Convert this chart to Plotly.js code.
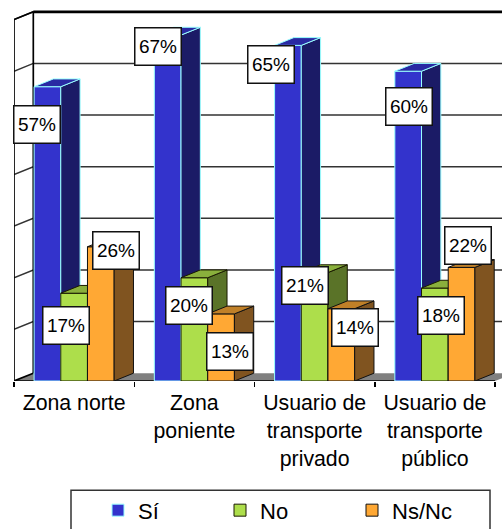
<!DOCTYPE html>
<html>
<head>
<meta charset="utf-8">
<script src="https://cdn.plot.ly/plotly-3.0.1.min.js"></script>
<style>html,body{margin:0;padding:0;background:#fff}</style>
</head>
<body>
<div id="chart" style="width:502px;height:529px"></div>
<script>
const categories = ["Zona norte", "Zona<br>poniente", "Usuario de<br>transporte<br>privado", "Usuario de<br>transporte<br>público"];
const seriesNames = ["Sí", "No", "Ns/Nc"];
const si = [57, 67, 65, 60];
const no = [17, 20, 21, 18];
const nsnc = [26, 13, 14, 22];
const gridValues = [10, 20, 30, 40, 50, 60, 70];

// label offsets from the front-top centre of each bar, in px
const labelShiftX = [[-10, -10, -17, 0.5], [-8.5, -5, -9.5, 6], [15, 8.5, 14, 6]];
const labelShiftY = [[-37.7, -11, -19.6, -35.2], [-32.4, -27.4, -12.6, -27.1], [-3.4, -37.2, -18.4, 22.3]];
const legendLeft = [98, 220, 352];

const styles = [
  {front: "#3333CC", side: "#1B1B66", top: "#2929A3", line: "#99FFFF"},
  {front: "#ADDE4B", side: "#5A7328", top: "#8AB03C", line: "#1a1a00"},
  {front: "#FFA834", side: "#805420", top: "#C08028", line: "#111111"}
];

const W = 502, H = 529, L = 14, BASE = 381.5;
const PXCAT = 120.25, PXVAL = 5.17;
const xMax = (W - L) / PXCAT, yMax = BASE / PXVAL;
const dx = 19.3 / PXCAT, dy = 7.8 / PXVAL;
const barW = 0.222;
const nCat = categories.length;
const values = [si, no, nsnc];
const traces = [];

// floor
traces.push({type: "scatter", mode: "lines", x: [0, dx, nCat + dx, nCat, 0], y: [0, dy, dy, 0, 0], fill: "toself",
  fillcolor: "#808080", line: {color: "#808080", width: 0}, showlegend: false, hoverinfo: "skip"});

// back wall and side wall grid
const gx = [], gy = [];
gridValues.forEach(v => { gx.push(0, dx, xMax, null); gy.push(v, v + dy, v + dy, null); });
traces.push({type: "scatter", mode: "lines", x: gx, y: gy, line: {color: "#333333", width: 1.5},
  showlegend: false, hoverinfo: "skip", cliponaxis: false});
traces.push({type: "scatter", mode: "lines", x: [0, 0, null, dx, dx, null, 0, dx, null, 0, dx, null, 0, nCat],
  y: [0, 70, null, dy, 70 + dy, null, 70, 70 + dy, null, 0, dy, null, 0, 0],
  line: {color: "#000000", width: 1.7}, showlegend: false, hoverinfo: "skip", cliponaxis: false});
traces.push({type: "scatter", mode: "lines", x: [dx, xMax], y: [70 + dy, 70 + dy],
  line: {color: "#000000", width: 2.8}, showlegend: false, hoverinfo: "skip", cliponaxis: false});

const annotations = [];
const legends = {};
values.forEach((vals, i) => {
  const ax = "x" + (i + 2), ay = "y" + (i + 2);
  const st = styles[i];
  const centers = vals.map((_, c) => c + 0.5 + (i - 1) * barW);
  const legendId = i === 0 ? "legend" : "legend" + (i + 1);
  legends[legendId] = {x: (legendLeft[i] - L) / (W - L), xanchor: "left", y: (BASE - 490) / BASE, yanchor: "top",
    font: {family: "Liberation Sans", size: 22, color: "#000000"}, itemwidth: 30, bgcolor: "rgba(0,0,0,0)", borderwidth: 0};
  traces.push({type: "bar", name: seriesNames[i], x: centers, y: vals, width: barW, xaxis: ax, yaxis: ay, legend: legendId,
    marker: {color: st.front, line: {color: st.line, width: 1}}, hoverinfo: "skip"});
  const sx = [], sy = [], tx = [], ty = [];
  vals.forEach((v, c) => {
    const l = centers[c] - barW / 2, r = centers[c] + barW / 2;
    sx.push(r, r + dx, r + dx, r, r, null); sy.push(0, dy, v + dy, v, 0, null);
    tx.push(l, l + dx, r + dx, r, l, null); ty.push(v, v + dy, v + dy, v, v, null);
    annotations.push({xref: ax, yref: ay, x: centers[c], y: v, text: v + "%", showarrow: false,
      xanchor: "center", yanchor: "middle", xshift: labelShiftX[i][c], yshift: labelShiftY[i][c],
      width: 45, height: 36, bgcolor: "#FFFFFF", bordercolor: "#111111", borderwidth: 1.5, borderpad: 0,
      font: {family: "Liberation Sans", size: 19, color: "#000000"}});
  });
  traces.push({type: "scatter", mode: "lines", x: sx, y: sy, xaxis: ax, yaxis: ay, fill: "toself", fillcolor: st.side,
    line: {color: st.line, width: 1}, showlegend: false, hoverinfo: "skip"});
  traces.push({type: "scatter", mode: "lines", x: tx, y: ty, xaxis: ax, yaxis: ay, fill: "toself", fillcolor: st.top,
    line: {color: st.line, width: 1}, showlegend: false, hoverinfo: "skip"});
});

const over = (base) => ({overlaying: base, matches: base, visible: false});
const layout = Object.assign({
  width: W, height: H, margin: {l: L, r: 0, t: 0, b: H - BASE, pad: 0, autoexpand: false},
  paper_bgcolor: "#FFFFFF", plot_bgcolor: "#FFFFFF", font: {family: "Liberation Sans", color: "#000000"},
  barmode: "overlay",
  xaxis: {range: [0, xMax], showgrid: false, zeroline: false, showline: false,
    tickmode: "array", tickvals: categories.map((_, c) => c + 0.5), ticktext: categories,
    ticks: "", ticklen: 0, ticklabelstandoff: 7, tickfont: {family: "Liberation Sans", size: 21.3, color: "#000000"},
    minor: {tickmode: "array", tickvals: [0, 1, 2, 3, 4], ticks: "outside", ticklen: 5, tickwidth: 1.5, tickcolor: "#000000", showgrid: false}},
  yaxis: {range: [0, yMax], visible: false, showgrid: false, zeroline: false},
  xaxis2: over("x"), yaxis2: over("y"),
  xaxis3: over("x"), yaxis3: over("y"),
  xaxis4: over("x"), yaxis4: over("y"),
  annotations: annotations,
  showlegend: true,
  shapes: [{type: "rect", xref: "paper", yref: "paper", x0: (71 - L) / (W - L), x1: (490 - L) / (W - L),
    y0: (BASE - 491) / BASE, y1: (BASE - 545) / BASE, line: {color: "#333333", width: 1.5}, fillcolor: "rgba(0,0,0,0)"}]
}, legends);
Plotly.newPlot("chart", traces, layout, {displayModeBar: false, staticPlot: true});
</script>
</body>
</html>
